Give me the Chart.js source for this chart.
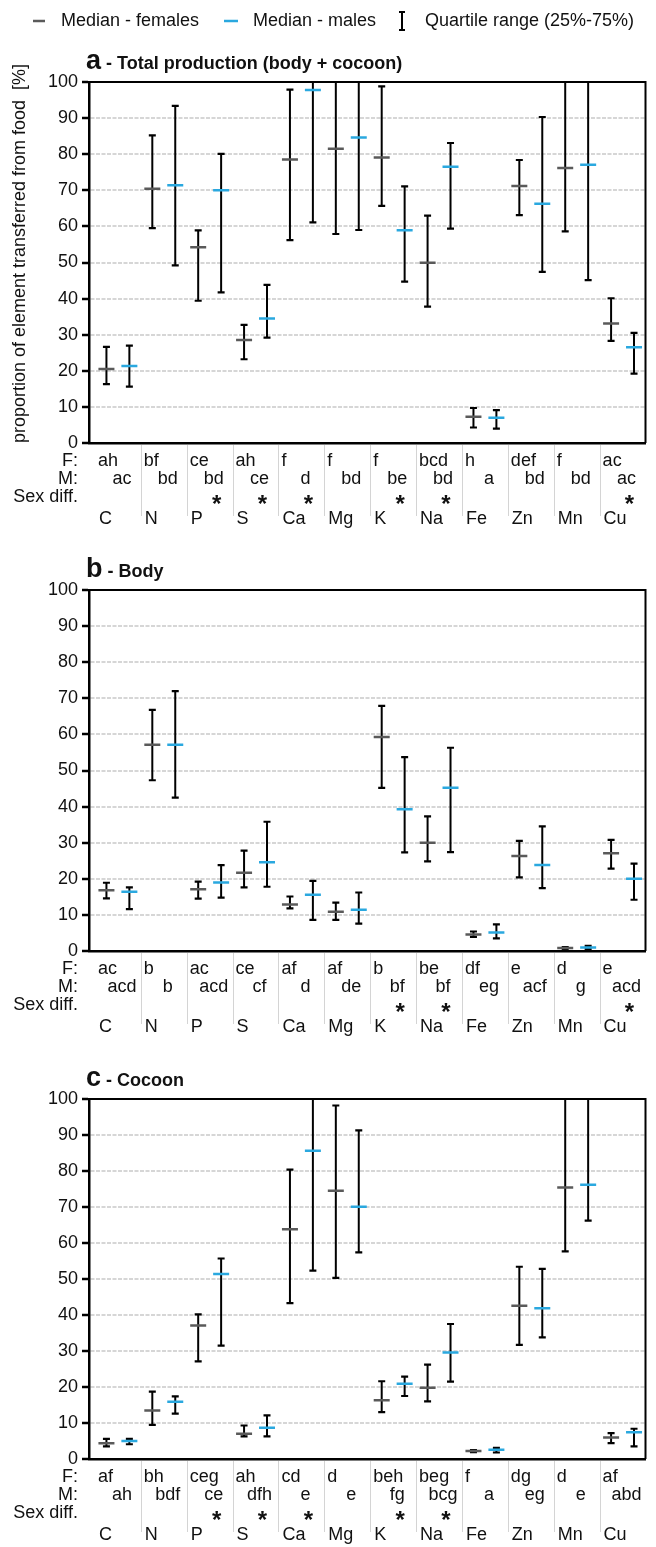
<!DOCTYPE html>
<html>
<head>
<meta charset="utf-8">
<script src="https://cdn.jsdelivr.net/npm/chart.js@4.4.1/dist/chart.umd.min.js"></script>
<style>
  body { margin: 0; background: #fff; }
  #page { position: relative; width: 656px; height: 1547px; overflow: hidden; }
  canvas { position: absolute; left: 0; }
</style>
</head>
<body>
<div id="page">
  <canvas id="chartA" width="656" height="540" style="top:0px"></canvas>
  <canvas id="chartB" width="656" height="508" style="top:540px"></canvas>
  <canvas id="chartC" width="656" height="499" style="top:1048px"></canvas>
</div>
<script>
const FONT = '"Liberation Sans", Arial, Helvetica, sans-serif';
const FEMALE_COLOR = '#5a5a5a';
const MALE_COLOR = '#2aa8df';

const elements = ['C', 'N', 'P', 'S', 'Ca', 'Mg', 'K', 'Na', 'Fe', 'Zn', 'Mn', 'Cu'];

// a - total production (values above 100 run off the top of the axis)
const totalFemaleMedian = [20.5, 70.4, 54.2, 28.5, 78.5, 81.5, 79.1, 49.9, 7.3, 71.2, 76.2, 33.1];
const totalFemaleQ1 = [16.3, 59.5, 39.4, 23.2, 56.2, 57.9, 65.7, 37.8, 4.3, 63.1, 58.6, 28.3];
const totalFemaleQ3 = [26.6, 85.2, 58.9, 32.7, 97.9, 104, 98.8, 63.0, 9.7, 78.4, 104, 40.1];
const totalMaleMedian = [21.3, 71.4, 70.0, 34.5, 97.8, 84.6, 58.9, 76.5, 7.0, 66.3, 77.1, 26.5];
const totalMaleQ1 = [15.6, 49.2, 41.7, 29.2, 61.1, 59.0, 44.7, 59.4, 4.0, 47.4, 45.1, 19.2];
const totalMaleQ3 = [27.0, 93.4, 80.1, 43.8, 104, 104, 71.1, 83.1, 9.1, 90.3, 104, 30.5];
const totalFemaleLetters = ['ah', 'bf', 'ce', 'ah', 'f', 'f', 'f', 'bcd', 'h', 'def', 'f', 'ac'];
const totalMaleLetters = ['ac', 'bd', 'bd', 'ce', 'd', 'bd', 'be', 'bd', 'a', 'bd', 'bd', 'ac'];
const totalSexDiff = [false, false, true, true, true, false, true, true, false, false, false, true];

// b - body
const bodyFemaleMedian = [16.8, 57.1, 17.1, 21.7, 12.9, 10.9, 59.3, 30.0, 4.6, 26.3, 0.8, 27.1];
const bodyFemaleQ1 = [14.6, 47.3, 14.5, 17.6, 11.8, 8.6, 45.2, 24.8, 3.9, 20.4, 0.6, 22.8];
const bodyFemaleQ3 = [18.9, 66.8, 19.2, 27.8, 15.1, 13.4, 67.9, 37.3, 5.4, 30.5, 1.1, 30.8];
const bodyMaleMedian = [16.4, 57.1, 19.0, 24.6, 15.6, 11.4, 39.3, 45.2, 5.1, 23.8, 1.0, 20.0];
const bodyMaleQ1 = [11.6, 42.5, 14.8, 17.8, 8.6, 7.6, 27.3, 27.4, 3.5, 17.4, 0.6, 14.2];
const bodyMaleQ3 = [17.6, 72.0, 23.8, 35.8, 19.4, 16.2, 53.7, 56.3, 7.4, 34.5, 1.4, 24.2];
const bodyFemaleLetters = ['ac', 'b', 'ac', 'ce', 'af', 'af', 'b', 'be', 'df', 'e', 'd', 'e'];
const bodyMaleLetters = ['acd', 'b', 'acd', 'cf', 'd', 'de', 'bf', 'bf', 'eg', 'acf', 'g', 'acd'];
const bodySexDiff = [false, false, false, false, false, false, true, true, false, false, false, true];

// c - cocoon
const cocoonFemaleMedian = [4.4, 13.5, 37.1, 7.0, 63.8, 74.5, 16.3, 19.8, 2.2, 42.6, 75.4, 6.0];
const cocoonFemaleQ1 = [3.5, 9.5, 27.1, 6.3, 43.3, 50.3, 13.0, 16.0, 1.9, 31.7, 57.7, 4.4];
const cocoonFemaleQ3 = [5.6, 18.7, 40.2, 9.3, 80.4, 98.2, 21.6, 26.2, 2.5, 53.4, 104, 7.2];
const cocoonMaleMedian = [5.0, 15.9, 51.4, 8.7, 85.6, 70.1, 20.9, 29.6, 2.6, 41.9, 76.2, 7.4];
const cocoonMaleQ1 = [4.1, 12.6, 31.5, 6.3, 52.3, 57.4, 17.5, 21.5, 1.8, 33.8, 66.2, 3.5];
const cocoonMaleQ3 = [5.6, 17.4, 55.7, 12.1, 104, 91.3, 22.9, 37.5, 3.1, 52.8, 104, 8.4];
const cocoonFemaleLetters = ['af', 'bh', 'ceg', 'ah', 'cd', 'd', 'beh', 'beg', 'f', 'dg', 'd', 'af'];
const cocoonMaleLetters = ['ah', 'bdf', 'ce', 'dfh', 'e', 'e', 'fg', 'bcg', 'a', 'eg', 'e', 'abd'];
const cocoonSexDiff = [false, false, true, true, true, false, true, true, false, false, false, false];

// female sits at 2i+0.5, male at 2i+1.5 on the x scale
const femaleX = i => 2 * i + 0.5;
const maleX = i => 2 * i + 1.5;

function buildDatasets(fMed, fLo, fHi, mMed, mLo, mHi) {
  const whiskers = [];
  const caps = [];
  elements.forEach((el, i) => {
    [[femaleX(i), fLo[i], fHi[i]], [maleX(i), mLo[i], mHi[i]]].forEach(([x, lo, hi]) => {
      whiskers.push({ x, y: lo }, { x, y: hi }, { x, y: null });
      caps.push({ x, y: lo });
      if (hi <= 100) caps.push({ x, y: hi });
    });
  });
  return [
    { type: 'scatter', data: fMed.map((v, i) => ({ x: femaleX(i), y: v })),
      pointStyle: 'line', pointRadius: 8, pointBorderWidth: 2.5, pointBorderColor: FEMALE_COLOR },
    { type: 'scatter', data: mMed.map((v, i) => ({ x: maleX(i), y: v })),
      pointStyle: 'line', pointRadius: 8, pointBorderWidth: 2.5, pointBorderColor: MALE_COLOR },
    { type: 'scatter', data: caps,
      pointStyle: 'line', pointRadius: 3.5, pointBorderWidth: 2.2, pointBorderColor: '#000' },
    { type: 'line', data: whiskers, borderColor: '#000', borderWidth: 2,
      pointRadius: 0, spanGaps: false, tension: 0 }
  ];
}

// frame, titles, letter rows and legend
const annotate = {
  id: 'annotate',
  beforeDatasetsDraw(chart) {
    const { ctx, chartArea: ca } = chart;
    ctx.save();
    ctx.strokeStyle = '#000';
    ctx.lineWidth = 2;
    ctx.beginPath();
    ctx.moveTo(ca.left, ca.top);
    ctx.lineTo(ca.right, ca.top);
    ctx.lineTo(ca.right, ca.bottom);
    ctx.stroke();
    ctx.restore();
  },
  afterDraw(chart, args, o) {
    const { ctx, chartArea: ca, scales: { x } } = chart;
    ctx.save();
    ctx.fillStyle = '#111';
    ctx.textBaseline = 'alphabetic';

    // panel title
    ctx.textAlign = 'left';
    ctx.font = 'bold 27px ' + FONT;
    ctx.fillText(o.letter, 86, ca.top - 13);
    const lw = ctx.measureText(o.letter).width;
    ctx.font = 'bold 18px ' + FONT;
    ctx.fillText(' - ' + o.title, 86 + lw, ca.top - 13);

    // separators
    ctx.strokeStyle = '#d4d4d4';
    ctx.lineWidth = 1;
    for (let k = 1; k < elements.length; k++) {
      const px = Math.round(x.getPixelForValue(2 * k)) + 0.5;
      ctx.beginPath();
      ctx.moveTo(px, ca.bottom + 2);
      ctx.lineTo(px, ca.bottom + 73);
      ctx.stroke();
    }

    // row labels
    ctx.textBaseline = 'middle';
    ctx.font = '18px ' + FONT;
    ctx.textAlign = 'right';
    ctx.fillText('F:', 78, ca.bottom + 18);
    ctx.fillText('M:', 78, ca.bottom + 36);
    ctx.fillText('Sex diff.', 78, ca.bottom + 54);

    elements.forEach((el, i) => {
      const left = x.getPixelForValue(2 * i);
      const mid = x.getPixelForValue(2 * i + 1);
      const mx = x.getPixelForValue(maleX(i));
      ctx.font = '18px ' + FONT;
      ctx.textAlign = 'left';
      ctx.fillText(o.female[i], left + 3, ca.bottom + 18);
      ctx.fillText(el, left + 4, ca.bottom + 76);
      ctx.textAlign = 'center';
      ctx.fillText(o.male[i], mid + 4, ca.bottom + 36);
      if (o.sex[i]) {
        ctx.font = 'bold 24px ' + FONT;
        ctx.fillText('*', mx - 4.5, ca.bottom + 62);
      }
    });

    if (o.yTitle) {
      ctx.save();
      ctx.translate(20, (ca.top + ca.bottom) / 2 - 9);
      ctx.rotate(-Math.PI / 2);
      ctx.font = '18px ' + FONT;
      ctx.textAlign = 'center';
      ctx.fillText(o.yTitle, 0, 0);
      ctx.restore();
    }

    if (o.legend) {
      const ly = 21;
      ctx.lineWidth = 2.5;
      ctx.strokeStyle = FEMALE_COLOR;
      ctx.beginPath(); ctx.moveTo(33, ly); ctx.lineTo(45, ly); ctx.stroke();
      ctx.strokeStyle = MALE_COLOR;
      ctx.beginPath(); ctx.moveTo(224, ly); ctx.lineTo(238, ly); ctx.stroke();
      ctx.strokeStyle = '#000';
      ctx.lineWidth = 2;
      ctx.beginPath();
      ctx.moveTo(402, 12); ctx.lineTo(402, 30);
      ctx.moveTo(399, 12); ctx.lineTo(405, 12);
      ctx.moveTo(399, 30); ctx.lineTo(405, 30);
      ctx.stroke();
      ctx.font = '18px ' + FONT;
      ctx.textAlign = 'left';
      ctx.fillText('Median - females', 61, ly);
      ctx.fillText('Median - males', 253, ly);
      ctx.fillText('Quartile range (25%-75%)', 425, ly);
    }
    ctx.restore();
  }
};

function makePanel(id, topPad, xAxisHeight, datasets, panelOpts) {
  return new Chart(document.getElementById(id), {
    type: 'scatter',
    data: { datasets },
    options: {
      responsive: false,
      animation: false,
      events: [],
      layout: { padding: { top: topPad, right: 3, left: 0, bottom: 0 } },
      plugins: { legend: { display: false }, tooltip: { enabled: false }, annotate: panelOpts },
      scales: {
        x: {
          type: 'linear', min: -0.26, max: 24,
          grid: { display: false },
          ticks: { display: false },
          border: { color: '#000', width: 2.5 },
          afterFit: s => { s.height = xAxisHeight; }
        },
        y: {
          min: 0, max: 100,
          ticks: { stepSize: 10, color: '#111', padding: 4, font: { family: FONT, size: 18 } },
          grid: { color: '#d6d6d6', lineWidth: 2, tickColor: '#000', tickWidth: 2.5, tickLength: 7 },
          border: { color: '#000', width: 2.5, dash: [4, 1.5] },
          afterFit: s => { s.width = 89; }
        }
      }
    },
    plugins: [annotate]
  });
}

makePanel('chartA', 82, 97,
  buildDatasets(totalFemaleMedian, totalFemaleQ1, totalFemaleQ3, totalMaleMedian, totalMaleQ1, totalMaleQ3),
  { letter: 'a', title: 'Total production (body + cocoon)', female: totalFemaleLetters,
    male: totalMaleLetters, sex: totalSexDiff, legend: true,
    yTitle: 'proportion of element transferred from food  [%]' });

makePanel('chartB', 50, 97,
  buildDatasets(bodyFemaleMedian, bodyFemaleQ1, bodyFemaleQ3, bodyMaleMedian, bodyMaleQ1, bodyMaleQ3),
  { letter: 'b', title: 'Body', female: bodyFemaleLetters, male: bodyMaleLetters, sex: bodySexDiff });

makePanel('chartC', 51, 88,
  buildDatasets(cocoonFemaleMedian, cocoonFemaleQ1, cocoonFemaleQ3, cocoonMaleMedian, cocoonMaleQ1, cocoonMaleQ3),
  { letter: 'c', title: 'Cocoon', female: cocoonFemaleLetters, male: cocoonMaleLetters, sex: cocoonSexDiff });
</script>
</body>
</html>
